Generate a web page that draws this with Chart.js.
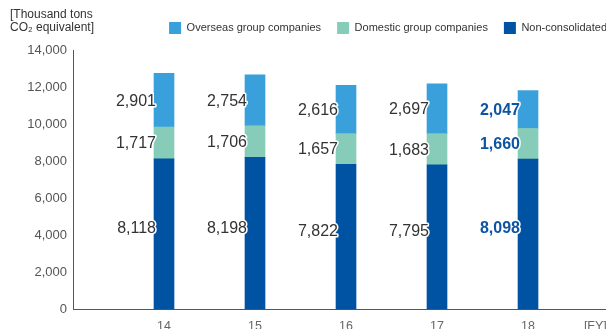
<!DOCTYPE html>
<html>
<head>
<meta charset="utf-8">
<script src="https://cdn.jsdelivr.net/npm/chart.js@4.4.0/dist/chart.umd.min.js"></script>
<style>
  html, body { margin: 0; padding: 0; background: #fff; }
  #wrap { width: 606px; height: 329px; position: relative; }
</style>
</head>
<body>
<div id="wrap"><canvas id="co2Chart"></canvas></div>
<script>
const years = ["14", "15", "16", "17", "18"];
const nonConsolidated = [8118, 8198, 7822, 7795, 8098];
const domestic = [1717, 1706, 1657, 1683, 1660];
const overseas = [2901, 2754, 2616, 2697, 2047];
const unitLines = ["[Thousand tons", "CO\u2082 equivalent]"];
const fyLabel = "[FY]";

const FONT = "'Liberation Sans', Arial, sans-serif";

function toPoints(values) {
  return values.map(function (v, i) { return { x: Number(years[i]), y: v }; });
}

// value labels to the left of each segment
const valueLabels = {
  id: "valueLabels",
  afterDatasetsDraw: function (chart) {
    const ctx = chart.ctx;
    ctx.save();
    ctx.textAlign = "right";
    ctx.textBaseline = "middle";
    ctx.lineJoin = "round";
    chart.data.datasets.forEach(function (ds, di) {
      const meta = chart.getDatasetMeta(di);
      meta.data.forEach(function (bar, i) {
        const last = i === years.length - 1;
        const text = ds.data[i].y.toLocaleString("en-US");
        const x = bar.x - bar.width / 2 + 2;
        const y = (bar.y + bar.base) / 2 + (di === 0 ? -5 : 1);
        ctx.font = (last ? "bold 16px " : "16px ") + FONT;
        ctx.strokeStyle = "#fff";
        ctx.lineWidth = 3;
        ctx.strokeText(text, x, y);
        ctx.fillStyle = last ? "#0d55a3" : "#333";
        ctx.fillText(text, x, y);
      });
    });
    ctx.restore();
  }
};

// unit text in the top left corner, a bit more room under the legend
const unitText = {
  id: "unitText",
  beforeInit: function (chart) {
    if (!chart.legend) return;
    const fit = chart.legend.fit;
    chart.legend.fit = function () {
      fit.bind(chart.legend)();
      this.height += 6;
    };
  },
  afterDraw: function (chart) {
    const ctx = chart.ctx;
    ctx.save();
    ctx.font = "12px " + FONT;
    ctx.fillStyle = "#333";
    ctx.textBaseline = "middle";
    ctx.fillText(unitLines[0], 10, 15);
    ctx.fillText(unitLines[1], 10, 28);
    ctx.restore();
  }
};

const ctx = document.getElementById("co2Chart").getContext("2d");
const myChart = new Chart(ctx, {
  type: "bar",
  data: {
    datasets: [
      {
        label: "Non-consolidated",
        data: toPoints(nonConsolidated),
        backgroundColor: "rgb(0, 83, 163)"
      },
      {
        label: "Domestic group companies",
        data: toPoints(domestic),
        backgroundColor: "rgb(134, 204, 184)"
      },
      {
        label: "Overseas group companies",
        data: toPoints(overseas),
        backgroundColor: "rgb(58, 160, 219)"
      }
    ]
  },
  options: {
    responsive: true,
    maintainAspectRatio: false,
    animation: false,
    barThickness: 20,
    // negative right padding pushes the legend to the canvas edge
    layout: { padding: { top: 6, right: -17, left: 0, bottom: 0 } },
    plugins: {
      legend: {
        position: "top",
        align: "end",
        reverse: true,
        labels: {
          boxWidth: 12,
          boxHeight: 12,
          padding: 16,
          color: "#333",
          font: { family: FONT, size: 11 }
        }
      },
      tooltip: { enabled: false }
    },
    scales: {
      x: {
        type: "linear",
        stacked: true,
        offset: false,
        min: 13,
        max: 18.857,
        grid: { display: false, drawTicks: false },
        border: { display: true, color: "#555", width: 1 },
        afterFit: function (scale) {
          scale.height = 20;
          scale.paddingLeft = 0;
          scale.paddingRight = 0;
        },
        afterBuildTicks: function (scale) {
          scale.ticks = years.map(function (y) { return { value: Number(y) }; })
            .concat([{ value: 18.74 }]);
        },
        ticks: {
          color: "#666",
          padding: 10,
          maxRotation: 0,
          autoSkip: false,
          font: { family: FONT, size: 12.5 },
          callback: function (v) { return v > 18.5 ? fyLabel : String(v); }
        }
      },
      y: {
        stacked: true,
        min: 0,
        max: 14000,
        grid: { display: false, drawTicks: false },
        border: { display: true, color: "#555", width: 1 },
        afterFit: function (scale) { scale.width = 73; },
        ticks: {
          stepSize: 2000,
          color: "#555",
          padding: 6,
          font: { family: FONT, size: 13 },
          callback: function (v) { return v.toLocaleString("en-US"); }
        }
      }
    }
  },
  plugins: [valueLabels, unitText]
});
</script>
</body>
</html>
